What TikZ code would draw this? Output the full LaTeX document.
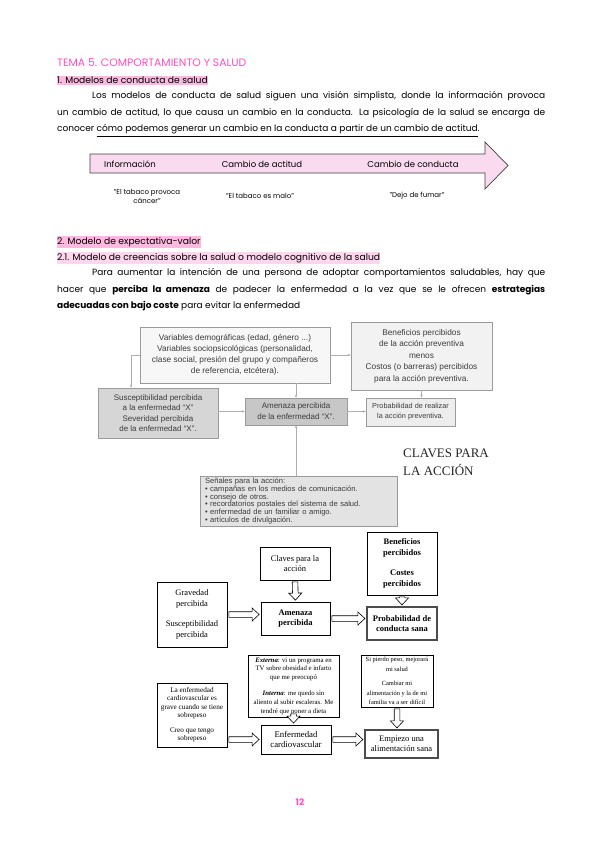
\documentclass[tikz,border=0pt]{standalone}
\usepackage{fontspec}
\setmainfont{Poppins}
\newfontfamily\arialf{Liberation Sans}
\newfontfamily\timesf{Liberation Serif}
\usetikzlibrary{arrows.meta,calc}
\definecolor{rosa}{HTML}{FF4FC0}
\definecolor{rosamarca}{HTML}{FFB8E0}
\definecolor{rosaclaro}{HTML}{FFD6EE}
\definecolor{rosaflecha}{HTML}{FADAEF}
\definecolor{grisborde}{HTML}{9A9A9A}
\definecolor{gristexto}{HTML}{3C3C3C}

\begin{document}
\begin{tikzpicture}[x=1pt,y=-1pt,>=Stealth,
  every node/.style={inner sep=0pt},
  marca/.style={anchor=west,inner xsep=0pt,inner ysep=1.5pt,font=\fontsize{9.2}{11}\selectfont},
  parrafo/.style={anchor=north west,text width=488pt,align=justify,font=\fontsize{9}{16.8}\selectfont},
  gcaja/.style={draw=grisborde,line width=0.6pt,align=center,text=gristexto,font=\arialf\fontsize{8}{11}\selectfont},
  garr/.style={draw=grisborde!80,line width=0.6pt,-{Stealth[length=3pt,width=2.5pt]}},
  bcaja/.style={draw=black,line width=0.8pt,fill=white,align=center,font=\timesf\fontsize{8.5}{10.5}\selectfont},
  barr/.style={draw=black,line width=0.6pt,fill=white,to path={
    ($(\tikztostart)!1.5pt!(\tikztotarget)$) coordinate (bs)
    ($(\tikztotarget)!1.5pt!(\tikztostart)$) coordinate (bt)
    ($(bt)!7pt!(bs)$) coordinate (bh)
    ($(bs)!2.8pt!90:(bt)$) -- ($(bh)!2.8pt!-90:(bs)$) -- ($(bh)!6.5pt!-90:(bs)$) -- (bt)
    -- ($(bh)!6.5pt!90:(bs)$) -- ($(bh)!2.8pt!90:(bs)$) -- ($(bs)!2.8pt!-90:(bt)$) -- cycle}}]
\fill[white] (0,0) rectangle (600,848);
\useasboundingbox (0,0) rectangle (600,848);

\node[anchor=west,text=rosa,font=\fontsize{10.8}{12}\selectfont] (tema) at (57,63) {TEMA 5. COMPORTAMIENTO Y SALUD};
\node[marca,fill=rosamarca] (sec1) at (57,80.5) {1. Modelos de conducta de salud};
\node[parrafo] (p1) at (57,91) {\hspace*{35pt}Los modelos de conducta de salud siguen una visión simplista, donde la información provoca\linebreak un cambio de actitud, lo que causa un cambio en la conducta. La psicología de la salud se encarga de\linebreak conocer \underline{cómo podemos generar un cambio en la conducta a partir de un cambio de actitud}.};

\filldraw[fill=rosaflecha,draw=black!75,line width=0.7pt] (90,154) -- (485,154) -- (485,142) -- (508,165.5) -- (485,189) -- (485,173) -- (90,173) -- cycle;
\node[font=\fontsize{8.5}{10}\selectfont] (info) at (130,164) {Información};
\node[font=\fontsize{8.5}{10}\selectfont] (actitud) at (262,164) {Cambio de actitud};
\node[font=\fontsize{8.5}{10}\selectfont] (conducta) at (413,164) {Cambio de conducta};
\node[font=\fontsize{7}{9}\selectfont,align=center] (q1) at (147,196) {"El tabaco provoca\\cáncer"};
\node[font=\fontsize{7}{9}\selectfont] (q2) at (260,196) {"El tabaco es malo"};
\node[font=\fontsize{7}{9}\selectfont] (q3) at (417,196) {"Dejo de fumar"};

\node[marca,fill=rosamarca] (sec2) at (57,242) {2. Modelo de expectativa-valor};
\node[marca,fill=rosaclaro] (sec21) at (57,258) {2.1. Modelo de creencias sobre la salud o modelo cognitivo de la salud};
\node[parrafo] (p2) at (57,268) {\hspace*{35pt}Para aumentar la intención de una persona de adoptar comportamientos saludables, hay que\linebreak hacer que \textbf{perciba la amenaza} de padecer la enfermedad a la vez que se le ofrecen \textbf{estrategias}\linebreak \textbf{adecuadas con bajo coste} para evitar la enfermedad};

\node[gcaja,fill=black!3,minimum width=190pt,minimum height=56pt,font=\arialf\fontsize{8.3}{11}\selectfont] (vars) at (235,355) {Variables demográficas (edad, género ...)\\Variables sociopsicológicas (personalidad,\\clase social, presión del grupo y compañeros\\de referencia, etcétera).};
\node[gcaja,fill=black!5,minimum width=141pt,minimum height=68pt,font=\arialf\fontsize{8.3}{11.5}\selectfont] (benef) at (421.5,356) {Beneficios percibidos\\de la acción preventiva\\menos\\Costos (o barreras) percibidos\\para la acción preventiva.};
\node[gcaja,fill=black!16,minimum width=120pt,minimum height=50pt,font=\arialf\fontsize{8}{10.5}\selectfont] (susc) at (158,413) {Susceptibilidad percibida\\a la enfermedad “X”\\Severidad percibida\\de la enfermedad “X”.};
\node[gcaja,fill=black!22,minimum width=102pt,minimum height=27pt] (amen) at (296,411.5) {Amenaza percibida\\de la enfermedad “X”.};
\node[gcaja,fill=black!7,minimum width=89pt,minimum height=28pt,font=\arialf\fontsize{7.3}{10}\selectfont] (prob) at (410.5,412) {Probabilidad de realizar\\la acción preventiva.};
\node[gcaja,fill=black!11,minimum width=197pt,minimum height=50pt,align=left,text width=187pt,font=\arialf\fontsize{7.6}{7.7}\selectfont] (senal) at (298.5,501) {Señales para la acción:\\• campañas en los medios de comunicación.\\• consejo de otros.\\• recordatorios postales del sistema de salud.\\• enfermedad de un familiar o amigo.\\• artículos de divulgación.};
\draw[garr] (vars) -- (vars -| benef.west);
\draw[garr] (vars.west) -| ([xshift=-27pt]susc.north);
\draw[garr] (vars.south -| amen.north) -- (amen.north);
\draw[garr] (susc.east |- amen) -- (amen.west);
\draw[garr] (amen.east) -- (amen.east -| prob.west);
\draw[garr] (benef.south) -- (benef.south |- prob.north);
\draw[garr] (amen.south |- senal.north) -- (amen.south);
\node[anchor=north west,align=left,font=\timesf\fontsize{13}{17.5}\selectfont,text=black!85] (claves) at (403,449) {CLAVES PARA\\LA ACCIÓN};

\node[bcaja,minimum width=70pt,minimum height=33pt] (clav) at (295,563.5) {Claves para la\\acción};
\node[bcaja,minimum width=70pt,minimum height=63pt,font=\timesf\bfseries\fontsize{8.5}{10.5}\selectfont] (benef2) at (402,563.5) {Beneficios\\percibidos\\[10pt]Costes\\percibidos};
\node[bcaja,minimum width=70pt,minimum height=65pt] (grav) at (192,614.5) {Gravedad\\percibida\\[10pt]Susceptibilidad\\percibida};
\node[bcaja,minimum width=69pt,minimum height=33pt,font=\timesf\bfseries\fontsize{8.5}{10.5}\selectfont] (amen2) at (295.5,618.5) {Amenaza\\percibida};
\node[bcaja,draw=black!70,line width=1.2pt,minimum width=70pt,minimum height=33pt,font=\timesf\bfseries\fontsize{8.5}{10.5}\selectfont] (prob2) at (402,623.5) {Probabilidad de\\conducta sana};
\draw[barr] (grav.east) to (grav.east -| amen2.west);
\draw[barr] (amen2.east) to (amen2.east -| prob2.west);
\draw[barr] (clav.south) to (amen2.north);
\draw[barr] (benef2.south) to (prob2.north);

\node[bcaja,minimum width=91pt,minimum height=62pt,font=\timesf\fontsize{6.8}{8.8}\selectfont] (ext) at (293.5,686) {\textbf{\textit{Externa}}: vi un programa en\\TV sobre obesidad e infarto\\que me preocupó\\[7pt]\textbf{\textit{Interna}}: me quedo sin\\aliento al subir escaleras. Me\\tendré que poner a dieta};
\node[bcaja,minimum width=72pt,minimum height=52pt,font=\timesf\fontsize{6.4}{9.5}\selectfont] (pierdo) at (397,681) {Si pierdo peso, mejorará\\mi salud\\[5pt]Cambiar mi\\alimentación y la de mi\\familia va a ser difícil};
\node[bcaja,minimum width=70pt,minimum height=64pt,font=\timesf\fontsize{7.2}{8.2}\selectfont] (enf) at (192,715) {La enfermedad\\cardiovascular es\\grave cuando se tiene\\sobrepeso\\[7pt]Creo que tengo\\sobrepeso};
\node[bcaja,minimum width=70pt,minimum height=29pt,font=\timesf\fontsize{8.8}{10}\selectfont] (cardio) at (296,739.5) {Enfermedad\\cardiovascular};
\node[bcaja,draw=black!70,line width=1.2pt,minimum width=73pt,minimum height=28pt,font=\timesf\fontsize{8.5}{10}\selectfont] (empiezo) at (401.5,744) {Empiezo una\\alimentación sana};
\draw[barr] (enf.east |- cardio.west) to (cardio.west);
\draw[barr] (cardio.east) to (cardio.east -| empiezo.west);
\draw[barr] ([yshift=5pt]ext.south) to (ext.south |- cardio.north);
\draw[barr] (pierdo.south) to (pierdo.south |- empiezo.north);

\node[text=rosa,font=\bfseries\fontsize{9}{11}\selectfont] (pag) at (300,802) {12};
\end{tikzpicture}
\end{document}
